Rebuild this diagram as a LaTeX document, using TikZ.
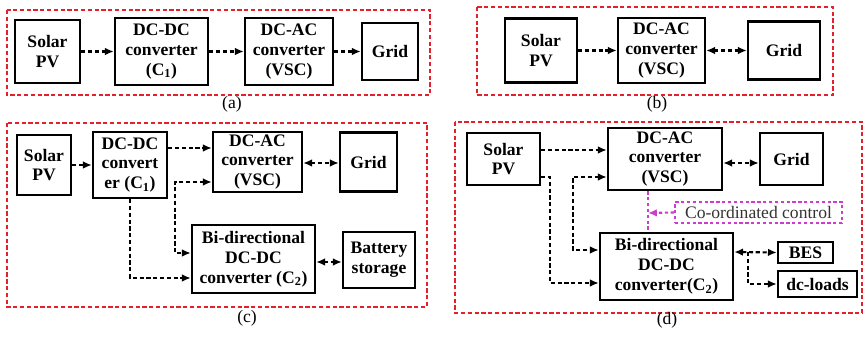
\documentclass[tikz,border=0pt]{standalone}
\usepackage{fontspec}
\setmainfont{Liberation Serif}
\usetikzlibrary{arrows.meta}
\definecolor{panelred}{RGB}{228,32,42}
\definecolor{ctrlmag}{RGB}{205,60,205}
\begin{document}
\begin{tikzpicture}[
x=0.03cm, y=-0.03cm,
every node/.style={
    draw,
    line width=2.1pt,
    inner sep=0pt,
    align=center,
    font=\fontsize{15}{17}\selectfont\bfseries
},
sz/.style 2 args={minimum width=#1*0.03cm, minimum height=#2*0.03cm},
flow/.style={line width=1.8pt, dash pattern=on 3.6pt off 2.2pt, -{Latex[length=7.5pt,width=6.5pt]}},
both/.style={flow, {Latex[length=7.5pt,width=6.5pt]}-{Latex[length=7.5pt,width=6.5pt]}},
panel/.style={draw=panelred, line width=2.2pt, dash pattern=on 3.6pt off 2.2pt},
ctrl/.style={draw=ctrlmag, line width=1.8pt, dash pattern=on 2.8pt off 2.2pt},
tag/.style={draw=none, font=\fontsize{15}{17}\selectfont}
]
\useasboundingbox (0,0) rectangle (865,337);

%---------------- (a) ----------------
\begin{scope}
\node[sz={65}{63}] (pvA) at (47.5,51.5) {Solar\\PV};
\node[sz={93}{67}] (dcdcA) at (161.5,51.5) {DC-DC\\converter\\(C\textsubscript{1})};
\node[sz={88}{67}] (dcacA) at (289,51.5) {DC-AC\\converter\\(VSC)};
\node[sz={56}{57}] (gridA) at (390,51.5) {Grid};

\draw[flow] (pvA) -- (dcdcA);
\draw[flow] (dcdcA) -- (dcacA);
\draw[flow] (dcacA) -- (gridA);

\draw[panel] (7,10) rectangle (430,95);
\node[tag] (labA) at (232,104) {(a)};
\end{scope}

%---------------- (b) ----------------
\begin{scope}
\node[sz={72}{64}] (pvB) at (541,50.5) {Solar\\PV};
\node[sz={87}{65}] (dcacB) at (661.5,50.5) {DC-AC\\converter\\(VSC)};
\node[sz={72}{58}] (gridB) at (784,50.5) {Grid};

\draw[flow] (pvB) -- (dcacB);
\draw[both] (dcacB) -- (gridB);

\draw[panel] (477,7) rectangle (833,95);
\node[tag] (labB) at (657,104) {(b)};
\end{scope}

%---------------- (c) ----------------
\begin{scope}
\node[sz={54}{60}] (pvC) at (44,165) {Solar\\PV};
\node[sz={74}{66}] (dcdcC) at (130,165) {DC-DC\\convert\\er (C\textsubscript{1})};
\node[sz={89}{60}] (dcacC) at (257.5,162) {DC-AC\\converter\\(VSC)};
\node[sz={57}{59}] (gridC) at (368.5,162) {Grid};
\node[sz={123}{68}] (bidC) at (253.5,259) {Bi-directional\\DC-DC\\converter (C\textsubscript{2})};
\node[sz={72}{56}] (batC) at (379,260) {Battery\\storage};

\draw[flow] (pvC) -- (dcdcC);
\draw[flow] (dcdcC.east |- 0,148) -- (dcacC.west |- 0,148);
\draw[both] (dcacC.west |- 0,182) -| (175,253) -- (bidC.west |- 0,253);
\draw[flow] (dcdcC.south) |- (bidC.west |- 0,278);
\draw[both] (dcacC.east |- 0,163) -- (gridC.west |- 0,163);
\draw[both] (bidC.east |- 0,262) -- (batC.west |- 0,262);

\draw[panel] (7,123) rectangle (427,307);
\node[tag] (labC) at (247,318) {(c)};
\end{scope}

%---------------- (d) ----------------
\begin{scope}
\node[sz={73}{52}] (pvD) at (503.5,159) {Solar\\PV};
\node[sz={114}{62}] (dcacD) at (665,159) {DC-AC\\converter\\(VSC)};
\node[sz={63}{52}] (gridD) at (791.5,159) {Grid};
\node[sz={133}{67}] (bidD) at (666.5,266.5) {Bi-directional\\DC-DC\\converter(C\textsubscript{2})};
\node[sz={55}{21}] (besD) at (805.5,252.5) {BES};
\node[sz={79}{26}] (loadD) at (817.5,284) {dc-loads};
\node[sz={167}{21}, ctrl, font=\fontsize{15}{17}\selectfont, text=black!80] (ctrlD) at (758.5,212.5) {Co-ordinated control};

\draw[flow] (pvD.east |- 0,150) -- (dcacD.west |- 0,150);
\draw[flow] (pvD.east |- 0,177) -| (550,283) -- (bidD.west |- 0,283);
\draw[both] (dcacD.west |- 0,177) -| (573,250) -- (bidD.west |- 0,250);
\draw[both] (dcacD.east |- 0,163) -- (gridD.west |- 0,163);
\draw[both] (bidD.east |- 0,252) -- (besD.west);
\coordinate (brD) at (748,252);
\draw[flow] (brD) |- (loadD.west);

\draw[ctrl] (dcacD.south -| 648,0) -- (bidD.north -| 648,0);
\coordinate (tapD) at (648,213);
\draw[ctrl, -{Latex[length=7.5pt,width=6.5pt]}] (ctrlD.west) -- (tapD);

\draw[panel] (455,122) rectangle (862,313);
\node[tag] (labD) at (667,320) {(d)};
\end{scope}

\end{tikzpicture}
\end{document}
